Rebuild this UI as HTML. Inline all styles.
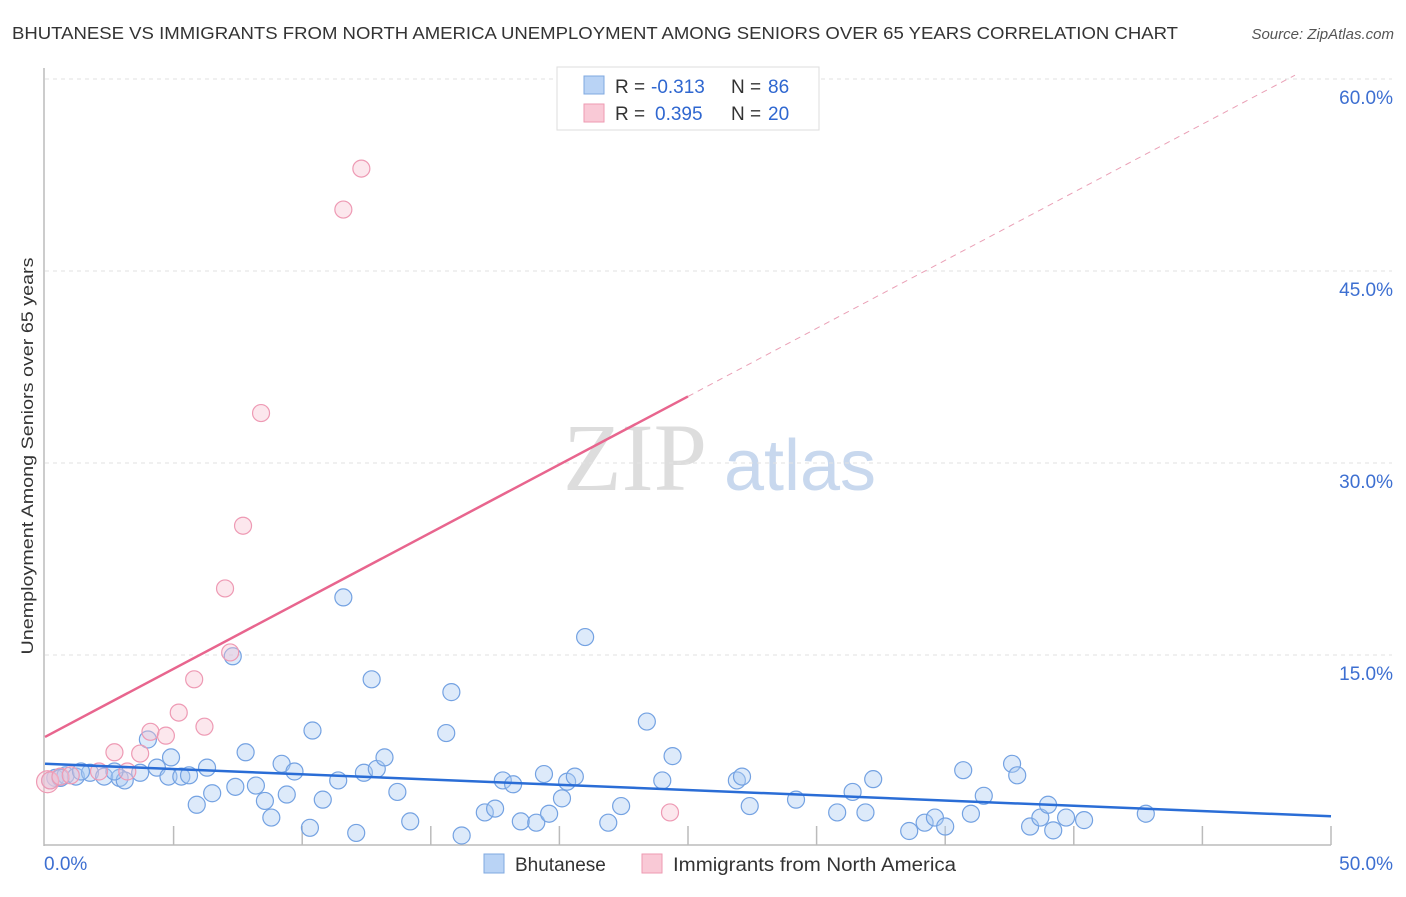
<!DOCTYPE html>
<html><head><meta charset="utf-8"><style>
body{margin:0;background:#fff;font-family:"Liberation Sans",sans-serif;}
</style></head><body>
<svg id="chart" width="1406" height="892" xmlns="http://www.w3.org/2000/svg" font-family="Liberation Sans, sans-serif">
<text x="12" y="39" font-size="17.5" fill="#333" textLength="1166" lengthAdjust="spacingAndGlyphs">BHUTANESE VS IMMIGRANTS FROM NORTH AMERICA UNEMPLOYMENT AMONG SENIORS OVER 65 YEARS CORRELATION CHART</text>
<text x="1394" y="39" font-size="15" fill="#555" text-anchor="end" font-style="italic">Source: ZipAtlas.com</text>
<text transform="translate(33,456) rotate(-90)" font-size="17" fill="#333" text-anchor="middle" textLength="397" lengthAdjust="spacingAndGlyphs">Unemployment Among Seniors over 65 years</text>
<g>
<text x="635" y="490" font-size="96" fill="#ddd" font-family="Liberation Serif, serif" text-anchor="middle">ZIP</text>
<text x="800" y="490" font-size="72" fill="#c8d8ee" text-anchor="middle">atlas</text>
</g>
<g id="grid"></g><g id="axes"></g><g id="pts"></g><g id="lines"></g>
<g>
<rect x="557" y="67" width="262" height="63" fill="#fff" stroke="#ddd"/>
<rect x="584" y="76" width="20" height="18" fill="#b9d3f5" stroke="#7fa8e0"/>
<rect x="584" y="104" width="20" height="18" fill="#f9c9d6" stroke="#ee9ab2"/>
<text x="615" y="93" font-size="19" fill="#333">R =</text>
<text x="651" y="93" font-size="19" fill="#2f67d0">-0.313</text>
<text x="731" y="93" font-size="19" fill="#333">N =</text>
<text x="768" y="93" font-size="19" fill="#2f67d0">86</text>
<text x="615" y="120" font-size="19" fill="#333">R =</text>
<text x="655" y="120" font-size="19" fill="#2f67d0">0.395</text>
<text x="731" y="120" font-size="19" fill="#333">N =</text>
<text x="768" y="120" font-size="19" fill="#2f67d0">20</text>
</g>
<g>
<rect x="484" y="854" width="20" height="19" fill="#b9d3f5" stroke="#7fa8e0"/>
<text x="515" y="871" font-size="19" fill="#333">Bhutanese</text>
<rect x="642" y="854" width="20" height="19" fill="#f9c9d6" stroke="#ee9ab2"/>
<text x="673" y="871" font-size="19" fill="#333" textLength="283" lengthAdjust="spacingAndGlyphs">Immigrants from North America</text>
</g>
</svg>
<script>
const yTicks=[15,30,45,60];
const yTickLabels=["15.0%","30.0%","45.0%","60.0%"];
const xLabels=["0.0%","50.0%"];
const blueX=[0.4,0.8,1.2,1.75,2.3,2.9,3.1,3.7,4.0,4.35,4.8,4.9,5.3,5.6,5.9,6.3,6.5,7.4,7.3,7.8,8.2,8.55,8.8,9.2,9.4,9.7,10.3,10.8,10.4,11.4,11.6,12.1,12.4,12.7,12.9,13.2,13.7,14.2,15.6,15.8,16.2,17.1,17.5,17.8,18.2,18.5,19.1,19.4,19.6,20.1,20.3,20.6,21.0,21.9,22.4,23.4,24.0,24.4,26.9,27.1,27.4,29.2,30.8,31.4,31.9,32.2,33.6,34.2,34.6,35.0,35.7,36.0,36.5,37.6,37.8,38.3,38.7,39.0,39.2,39.7,40.4,42.8,0.2,0.6,1.4,2.7];
const blueY=[5.4,5.6,5.5,5.8,5.5,5.4,5.2,5.8,8.4,6.2,5.5,7.0,5.5,5.6,3.3,6.2,4.2,4.7,14.9,7.4,4.8,3.6,2.3,6.5,4.1,5.9,1.5,3.7,9.1,5.2,19.5,1.1,5.8,13.1,6.1,7.0,4.3,2.0,8.9,12.1,0.9,2.7,3.0,5.2,4.9,2.0,1.9,5.7,2.6,3.8,5.1,5.5,16.4,1.9,3.2,9.8,5.2,7.1,5.2,5.5,3.2,3.7,2.7,4.3,2.7,5.3,1.25,1.9,2.3,1.6,6.0,2.6,4.0,6.5,5.6,1.6,2.3,3.3,1.3,2.3,2.1,2.6,5.2,5.4,5.9,5.9];
const pinkX=[0.1,0.2,0.6,1.0,2.1,2.7,3.2,3.7,4.1,4.7,5.2,5.8,6.2,7.0,7.2,7.7,8.4,11.6,12.3,24.3];
const pinkY=[5.1,5.2,5.5,5.6,5.9,7.4,5.9,7.3,9.0,8.7,10.5,13.1,9.4,20.2,15.2,25.1,33.9,49.8,53.0,2.7];
const blueTrend=[[0,6.5],[50,2.4]];
const pinkTrend=[[0,8.6],[25,35.2]];
const pinkDash=[[25,35.2],[48.6,60.3]];
const X=v=>45+v*25.72, Y=v=>847-v*12.8;
const NS="http://www.w3.org/2000/svg";
function mk(tag,attrs,parent){const e=document.createElementNS(NS,tag);for(const k in attrs)e.setAttribute(k,attrs[k]);document.getElementById(parent).appendChild(e);return e;}
yTicks.forEach((t,i)=>{
 const l=mk('line',{x1:45,x2:1392,y1:Y(t),y2:Y(t),stroke:'#e2e2e2','stroke-dasharray':'4,4'},'grid');
 
 
 const tx=mk('text',{x:1393,y:Y(t)+25,'font-size':19,fill:'#3d6fd1','text-anchor':'end'},'grid');
 tx.textContent=yTickLabels[i];
 
 
});
const ax=mk('line',{x1:44,x2:44,y1:68,y2:846,stroke:'#bbb','stroke-width':1.5},'axes');


const bx=mk('line',{x1:44,x2:1331,y1:845,y2:845,stroke:'#bbb','stroke-width':1.5},'axes');


for(let i=1;i<=10;i++){const t=mk('line',{x1:X(i*5),x2:X(i*5),y1:826,y2:845,stroke:'#bbb','stroke-width':1.5},'axes');
 
 }
[[xLabels[0],44,'start'],[xLabels[1],1393,'end']].forEach(a=>{const t=mk('text',{x:a[1],y:870,'font-size':19,fill:'#3d6fd1','text-anchor':a[2]},'axes');t.textContent=a[0];
 
 });
blueX.forEach((v,i)=>{const c=mk('circle',{cx:X(v),cy:Y(blueY[i]),r:8.5,fill:'rgba(170,202,242,0.4)',stroke:'#74a2e2','stroke-width':1.2},'pts');
 
 });
pinkX.forEach((v,i)=>{const c=mk('circle',{cx:X(v),cy:Y(pinkY[i]),r:i==0?11:8.5,fill:'rgba(248,195,210,0.4)',stroke:'#ee9ab4','stroke-width':1.2},'pts');
 
 });
const b=mk('line',{x1:X(blueTrend[0][0]),y1:Y(blueTrend[0][1]),x2:X(blueTrend[1][0]),y2:Y(blueTrend[1][1]),stroke:'#2a6dd6','stroke-width':2.5},'lines');


const p=mk('line',{x1:X(pinkTrend[0][0]),y1:Y(pinkTrend[0][1]),x2:X(pinkTrend[1][0]),y2:Y(pinkTrend[1][1]),stroke:'#e8658e','stroke-width':2.5},'lines');


const d=mk('line',{x1:X(pinkDash[0][0]),y1:Y(pinkDash[0][1]),x2:X(pinkDash[1][0]),y2:Y(pinkDash[1][1]),stroke:'#eaa0b6','stroke-width':1,'stroke-dasharray':'6,5'},'lines');


</script>
</body></html>
